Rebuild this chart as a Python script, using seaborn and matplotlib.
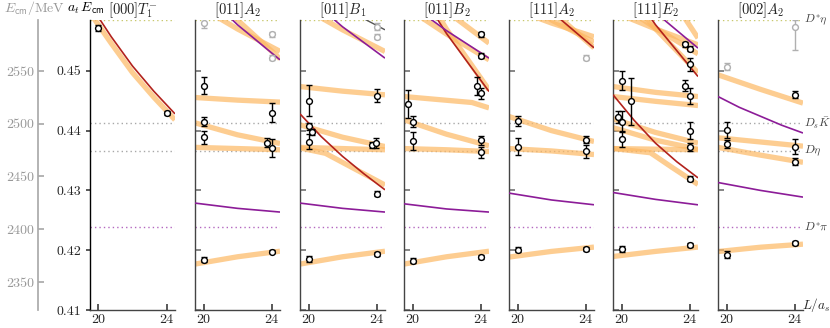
"""
Finite-volume spectrum: a_t E_cm vs L/a_s in seven irreps
"""

import matplotlib
matplotlib.use("Agg")
import matplotlib.pyplot as plt
import seaborn as sns

# ---- constants / axis ranges ----
AT_INV = 5667.0          # MeV, inverse temporal lattice spacing
Y_MIN, Y_MAX = 0.41, 0.4585
X_MIN, X_MAX = 19.5, 24.5
L3 = [19.5, 22.0, 24.5]
L5 = [19.5, 20.75, 22.0, 23.25, 24.5]

TITLES = [r"$[000]T_1^{-}$", r"$[011]A_2$", r"$[011]B_1$", r"$[011]B_2$",
          r"$[111]A_2$", r"$[111]E_2$", r"$[002]A_2$"]

# thresholds (a_t E)
THRESH_E = [0.4585, 0.44125, 0.43662, 0.42396]
THRESH_LABELS = [r"$D^{*}\eta$", r"$D_s\bar{K}$", r"$D\eta$", r"$D^{*}\pi$"]
THRESH_COLORS = ["#c8c86e", "#a8a8a8", "#a8a8a8", "#b468c0"]

MEV_TICKS = [2350, 2400, 2450, 2500, 2550]
E_TICKS = [0.41, 0.42, 0.43, 0.44, 0.45]

# ---- panel 1: [000] T1- ----
p1_bands = [(L5, [0.4597, 0.4546, 0.4497, 0.4456, 0.4418])]
p1_red = [(L5, [0.4611, 0.4557, 0.4508, 0.4466, 0.4428])]
p1_purple = []
p1_dark = []
p1_points = [(20, 0.45719, 0.0005), (24, 0.44292, 0.0003)]
p1_ghost = []

# ---- panel 2: [011] A2 ----
p2_bands = [[0.4612, 0.4570, 0.45326], [0.46695, 0.4585, 0.45201],
            [0.44554, 0.4451, 0.44477], [0.4413, 0.4393, 0.43785],
            [0.4372, 0.4370, 0.4368], [0.41768, 0.4189, 0.41983]]
p2_red = []
p2_purple = [[0.4646, 0.4577, 0.45184], [0.42788, 0.4270, 0.42638]]
p2_dark = []
p2_points = [(20, 0.44749, 0.0014), (24, 0.44303, 0.0016), (20, 0.44152, 0.0008),
             (20, 0.43891, 0.0011), (23.75, 0.43801, 0.0007), (24, 0.43717, 0.0015),
             (20, 0.41839, 0.0004), (24, 0.41978, 0.0003)]
p2_ghost = [(20, 0.45798, 0.0008), (24, 0.45614, 0.0004), (24, 0.45222, 0.0004)]

# ---- panel 3: [011] B1 ----
p3_bands = [[0.46088, 0.45686, 0.45323], [0.44737, 0.4466, 0.44599],
            [0.44097, 0.4389, 0.43734], [0.4372, 0.4370, 0.4368],
            ([19.5, 21.0, 24.5], [0.4371, 0.4362, 0.4309]),
            [0.41768, 0.4189, 0.41983]]
p3_red = [(L5, [0.4428, 0.4390, 0.4357, 0.4328, 0.4301])]
p3_purple = [[0.46344, 0.45737, 0.45212], [0.42788, 0.4270, 0.42638]]
p3_dark = [[0.4644, 0.4606, 0.45686]]
p3_points = [(20, 0.44503, 0.0026), (24, 0.44587, 0.0011), (20, 0.44069, 0.0006),
             (20.2, 0.43985, 0.0005), (20, 0.43818, 0.0013), (23.72, 0.43763, 0.0005),
             (23.96, 0.43791, 0.0008), (24, 0.42943, 0.0004),
             (20, 0.41851, 0.0005), (24, 0.41934, 0.0003)]
p3_ghost = [(24, 0.45741, 0.0006), (24, 0.45574, 0.0004)]

# ---- panel 4: [011] B2 ----
p4_bands = [[0.4666, 0.45997, 0.45463], [0.46087, 0.45615, 0.45184],
            [0.46883, 0.45696, 0.44682],
            ([19.5, 21.5, 23.5, 24.5], [0.4457, 0.4452, 0.4447, 0.4438]),
            [0.44181, 0.4394, 0.43746], [0.4370, 0.4368, 0.4365],
            [0.41768, 0.4189, 0.41983]]
p4_red = [[0.46744, 0.45624, 0.44654]]
p4_purple = [[0.46188, 0.45672, 0.45212], [0.42776, 0.4269, 0.42638]]
p4_dark = []
p4_points = [(24, 0.45614, 0.0004), (24, 0.45251, 0.0004), (23.8, 0.44749, 0.0015),
             (24, 0.44627, 0.0009), (19.75, 0.44443, 0.0023), (20, 0.44152, 0.0009),
             (20, 0.4383, 0.0015), (24, 0.43835, 0.0008), (24, 0.4364, 0.0009),
             (20, 0.41823, 0.0004), (24, 0.41885, 0.0003)]
p4_ghost = []

# ---- panel 5: [111] A2 ----
p5_bands = [[0.46064, 0.45799, 0.45569], [0.46331, 0.4585, 0.4548],
            [0.46791, 0.46011, 0.45385], [0.44236, 0.4400, 0.43818],
            [0.4370, 0.4366, 0.4360], [0.41885, 0.4198, 0.42052]]
p5_red = [[0.46747, 0.4599, 0.45385]]
p5_purple = [[0.42955, 0.4284, 0.4276]]
p5_dark = []
p5_points = [(20, 0.44164, 0.0008), (20, 0.43734, 0.0014), (24, 0.43846, 0.0006),
             (24, 0.43651, 0.0011), (20, 0.42007, 0.0004), (24, 0.42023, 0.0003)]
p5_ghost = [(24, 0.45222, 0.0004)]

# ---- panel 6: [111] E2 ----
p6_bands = [[0.4599, 0.45701, 0.45435], [0.46201, 0.45714, 0.45284],
            [0.46556, 0.45703, 0.44967], [0.4786, 0.46625, 0.45547],
            [0.44737, 0.4464, 0.4457], [0.4457, 0.4449, 0.4442],
            [0.44197, 0.4397, 0.43791], [0.4405, 0.4384, 0.4369],
            [0.4370, 0.4369, 0.4368],
            ([19.5, 21.7, 23.0, 24.5], [0.4370, 0.4363, 0.4338, 0.4310]),
            [0.41895, 0.4198, 0.42052]]
p6_red = [[0.46793, 0.45771, 0.44905], (L5, [0.4460, 0.4417, 0.4379, 0.4348, 0.4321])]
p6_purple = [[0.46718, 0.45974, 0.4538], [0.42965, 0.4285, 0.42759]]
p6_dark = []
p6_points = [(23.75, 0.45446, 0.0004), (24, 0.45368, 0.0004), (24, 0.45112, 0.0011),
             (20, 0.44833, 0.0016), (20.55, 0.44487, 0.0039), (23.75, 0.44754, 0.0009),
             (24, 0.44582, 0.0013), (19.8, 0.4422, 0.0010), (20.05, 0.44152, 0.0017),
             (20.05, 0.43858, 0.0013), (24, 0.43997, 0.0014), (24, 0.43724, 0.0007),
             (24, 0.43194, 0.0004), (20, 0.42018, 0.0005), (24, 0.4209, 0.0003)]
p6_ghost = []

# ---- panel 7: [002] A2 ----
p7_bands = [[0.44933, 0.4469, 0.4446], [0.4388, 0.4381, 0.4374],
            [0.4372, 0.4359, 0.4347], [0.41978, 0.4205, 0.42101]]
p7_red = []
p7_purple = [(L5, [0.4457, 0.4439, 0.4424, 0.4409, 0.4396]), [0.43132, 0.4300, 0.42888]]
p7_dark = []
p7_points = [(24, 0.44599, 0.0006), (20, 0.44013, 0.0013), (20, 0.43779, 0.0007),
             (24, 0.43734, 0.0013), (24, 0.43483, 0.0006),
             (20, 0.41923, 0.0006), (24, 0.42119, 0.0004)]
p7_ghost = [(20, 0.45072, 0.0006), (24, 0.4573, (0.0038, 0.0012))]

PANELS = [
    (p1_bands, p1_red, p1_purple, p1_dark, p1_points, p1_ghost),
    (p2_bands, p2_red, p2_purple, p2_dark, p2_points, p2_ghost),
    (p3_bands, p3_red, p3_purple, p3_dark, p3_points, p3_ghost),
    (p4_bands, p4_red, p4_purple, p4_dark, p4_points, p4_ghost),
    (p5_bands, p5_red, p5_purple, p5_dark, p5_points, p5_ghost),
    (p6_bands, p6_red, p6_purple, p6_dark, p6_points, p6_ghost),
    (p7_bands, p7_red, p7_purple, p7_dark, p7_points, p7_ghost),
]

# ---- style ----
sns.set_theme(style="ticks")
plt.rcParams["font.family"] = ["serif"]
plt.rcParams["font.serif"] = ["cmr10", "DejaVu Serif"]
plt.rcParams["mathtext.fontset"] = "cm"
plt.rcParams["axes.unicode_minus"] = False
plt.rcParams["axes.formatter.use_mathtext"] = True

BAND_COLOR = "#fdb863"
RED = "#b2221c"
PURPLE = "#8c1c98"
SPINE = "#444444"

W, H = 830.0, 328.0
PANEL_X = [90, 195, 300, 404, 509, 613, 718]
PANEL_W = 85
TOP_PX, BOT_PX = 20, 310


def as_curve(c):
    if isinstance(c, tuple):
        return c
    return L3, c


def draw_curve(ax, c, color, lw, alpha=1.0, z=2):
    xs, ys = as_curve(c)
    sns.lineplot(x=xs, y=ys, ax=ax, color=color, lw=lw, alpha=alpha,
                 estimator=None, sort=False, legend=False, zorder=z,
                 solid_capstyle="butt")


def draw_points(ax, pts, color):
    for L, E, err in pts:
        yerr = [[err[0]], [err[1]]] if isinstance(err, tuple) else err
        ax.errorbar([L], [E], yerr=yerr, fmt="o", ms=4.2, mfc="white",
                    mec=color, mew=1.0, ecolor=color, elinewidth=1.0,
                    capsize=2.0, capthick=1.0, zorder=6)


fig = plt.figure(figsize=(W / 100, H / 100), dpi=100)

# MeV scale on the far left
axm = fig.add_axes([38 / W, (H - BOT_PX) / H, 0.5 / W, (BOT_PX - TOP_PX) / H])
axm.set_ylim(Y_MIN * AT_INV, Y_MAX * AT_INV)
axm.set_yticks(MEV_TICKS)
axm.set_yticklabels([str(t) for t in MEV_TICKS])
axm.set_xticks([])
for s in ["top", "right", "bottom"]:
    axm.spines[s].set_visible(False)
axm.spines["left"].set_color("#aaaaaa")
axm.tick_params(axis="y", direction="in", length=4, colors="#aaaaaa",
                labelcolor="#999999", labelsize=10, pad=3)
axm.patch.set_visible(False)

axes = []
for k, (bands, reds, purples, darks, pts, ghosts) in enumerate(PANELS):
    ax = fig.add_axes([PANEL_X[k] / W, (H - BOT_PX) / H, PANEL_W / W,
                       (BOT_PX - TOP_PX) / H])
    axes.append(ax)
    ax.set_xlim(X_MIN, X_MAX)
    ax.set_ylim(Y_MIN, Y_MAX)

    for e, col in zip(THRESH_E, THRESH_COLORS):
        ax.axhline(e, color=col, lw=1.0, ls=(0, (1, 2.2)), zorder=0.5)

    for c in bands:
        draw_curve(ax, c, BAND_COLOR, 3.8, alpha=0.7, z=1)
    for c in darks:
        draw_curve(ax, c, "#555555", 1.0, z=2)
    for c in reds:
        draw_curve(ax, c, RED, 1.2, z=3)
    for c in purples:
        draw_curve(ax, c, PURPLE, 1.2, z=3)

    draw_points(ax, ghosts, "#b0b0b0")
    draw_points(ax, pts, "black")

    ax.set_title(TITLES[k], fontsize=10.5, pad=4)
    ax.set_xticks([20, 24])
    ax.set_xticklabels(["20", "24"])
    ax.set_yticks(E_TICKS)
    for s in ["top", "right"]:
        ax.spines[s].set_visible(False)
    for s in ["left", "bottom"]:
        ax.spines[s].set_color(SPINE)
        ax.spines[s].set_linewidth(1.0)
    ax.tick_params(axis="x", direction="in", length=4, color=SPINE,
                   labelsize=10, pad=3)
    if k == 0:
        ax.set_yticklabels([f"{t:.2f}" for t in E_TICKS])
        ax.tick_params(axis="y", direction="out", length=3, color=SPINE,
                       labelsize=10, pad=3)
        ax.spines["left"].set_color("black")
    else:
        ax.set_yticklabels([])
        ax.tick_params(axis="y", direction="in", length=4, color="#777777")
    ax.set_xlabel("")
    ax.set_ylabel("")

# threshold names to the right of the last panel
axr = axes[-1]
for e, lab in zip(THRESH_E, THRESH_LABELS):
    axr.text(24.55, e, lab, fontsize=8.5, color="#444444", ha="left",
             va="center", clip_on=False)
axr.text(24.45, Y_MIN + 0.0009, r"$L/a_s$", fontsize=9.5, ha="left",
         va="center", clip_on=False)

# column headers
fig.text(35 / W, 1 - 8 / H, r"$E_{\mathsf{cm}}/\mathrm{MeV}$", color="#999999",
         fontsize=10, ha="center", va="center")
fig.text(86 / W, 1 - 8 / H, r"$a_t\,E_{\mathsf{cm}}$", color="black",
         fontsize=10, ha="center", va="center")

fig.savefig("out.png", dpi=100)
